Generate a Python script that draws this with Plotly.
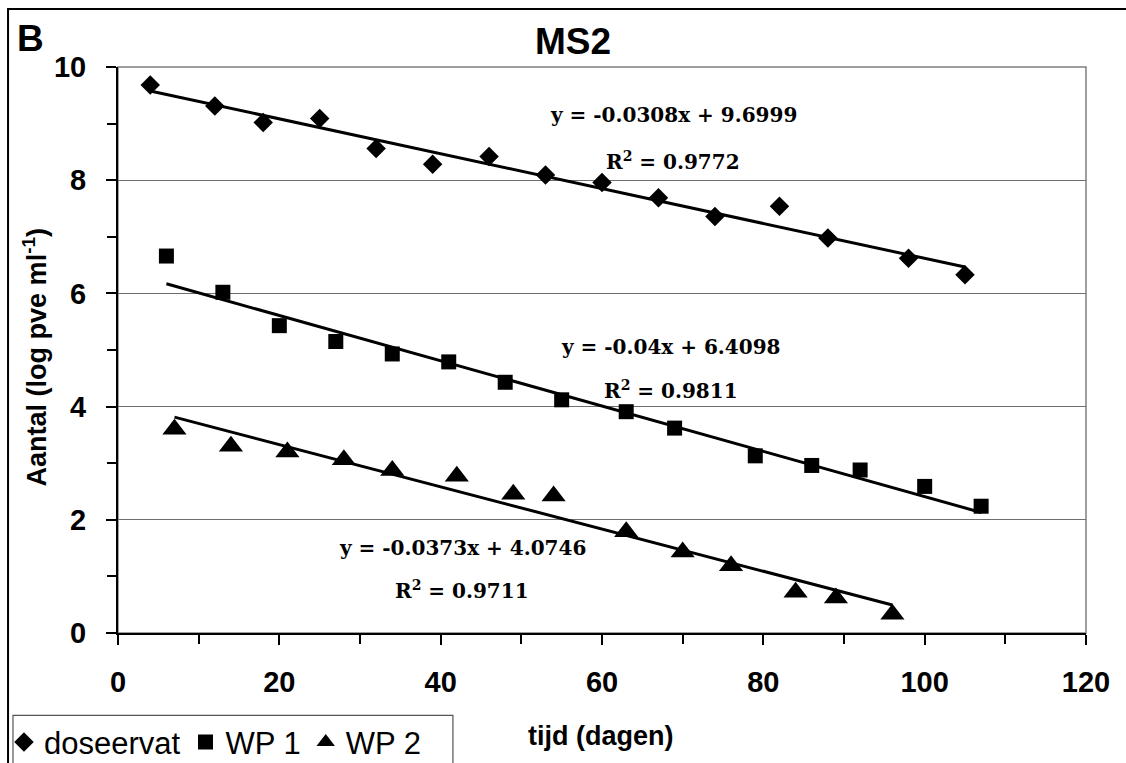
import plotly.graph_objects as go

# Measurements (days vs log pfu/ml)
dos_x = [4, 12, 18, 25, 32, 39, 46, 53, 60, 67, 74, 82, 88, 98, 105]
dos_y = [9.68, 9.31, 9.02, 9.09, 8.56, 8.28, 8.42, 8.09, 7.96, 7.69, 7.36, 7.54, 6.98, 6.62, 6.33]

wp1_x = [6, 13, 20, 27, 34, 41, 48, 55, 63, 69, 79, 86, 92, 100, 107]
wp1_y = [6.66, 6.02, 5.43, 5.15, 4.93, 4.79, 4.43, 4.12, 3.91, 3.62, 3.13, 2.96, 2.88, 2.59, 2.24]

wp2_x = [7, 14, 21, 28, 34, 42, 49, 54, 63, 70, 76, 84, 89, 96]
wp2_y = [3.6, 3.3, 3.2, 3.06, 2.87, 2.77, 2.45, 2.42, 1.79, 1.43, 1.19, 0.72, 0.62, 0.33]

# Linear trend coefficients and fit quality
slopes = [-0.0308, -0.04, -0.0373]
intercepts = [9.6999, 6.4098, 4.0746]
r_squared = ["0.9772", "0.9811", "0.9711"]
names = ["doseervat", "WP 1", "WP 2"]
symbols = ["diamond", "square", "triangle-up"]
marker_sizes = [15, 15, 21]

# Label anchor points (data units) for the regression equations
eq_pos = [(68.9, 9.16), (68.5, 5.06), (42.7, 1.50)]
r2_pos = [(68.8, 8.34), (68.6, 4.30), (42.7, 0.76)]

xs = [dos_x, wp1_x, wp2_x]
ys = [dos_y, wp1_y, wp2_y]

fig = go.Figure()

for i in range(3):
    fig.add_trace(go.Scatter(
        x=xs[i], y=ys[i], mode="markers", name=names[i],
        marker=dict(symbol=symbols[i], size=marker_sizes[i], color="black"),
    ))

for i in range(3):
    x0, x1 = min(xs[i]), max(xs[i])
    fig.add_trace(go.Scatter(
        x=[x0, x1],
        y=[slopes[i] * x0 + intercepts[i], slopes[i] * x1 + intercepts[i]],
        mode="lines", line=dict(color="black", width=3),
        showlegend=False, hoverinfo="skip",
    ))

eq_font = dict(family="DejaVu Serif", size=20, color="black")
annotations = []
for i in range(3):
    sign = "-" if slopes[i] < 0 else ""
    eq = f"<b>y = {sign}{abs(slopes[i]):g}x + {intercepts[i]:g}</b>"
    annotations.append(dict(x=eq_pos[i][0], y=eq_pos[i][1], xref="x", yref="y",
                            text=eq, showarrow=False, font=eq_font,
                            xanchor="center", yanchor="middle"))
    annotations.append(dict(x=r2_pos[i][0], y=r2_pos[i][1], xref="x", yref="y",
                            text=f"<b>R<sup>2</sup> = {r_squared[i]}</b>", showarrow=False,
                            font=eq_font, xanchor="center", yanchor="middle"))

sans = "Liberation Sans, Arial, sans-serif"
annotations += [
    dict(x=0.470, y=1.0447, xref="paper", yref="paper", text="<b>MS2</b>",
         showarrow=False, font=dict(family=sans, size=37, color="black"),
         xanchor="center", yanchor="middle"),
    dict(x=-0.0904, y=1.0504, xref="paper", yref="paper", text="<b>B</b>",
         showarrow=False, font=dict(family=sans, size=37, color="black"),
         xanchor="center", yanchor="middle"),
    # axis titles
    dict(x=0.498, y=-0.1826, xref="paper", yref="paper", text="<b>tijd (dagen)</b>",
         showarrow=False, font=dict(family=sans, size=27, color="black"),
         xanchor="center", yanchor="middle"),
    dict(x=-0.0857, y=0.487, xref="paper", yref="paper",
         text="<b>Aantal (log pve ml<sup>-1</sup>)</b>", textangle=-90,
         showarrow=False, font=dict(family=sans, size=27, color="black"),
         xanchor="center", yanchor="middle"),
]

shapes = [
    # plot-area frame (top and right edges)
    dict(type="rect", xref="paper", yref="paper", x0=0, x1=1, y0=0, y1=1,
         line=dict(color="#7f7f7f", width=1.5), layer="below"),
    # chart-area frame
    dict(type="rect", xref="paper", yref="paper", x0=-0.1136, x1=1.2, y0=-0.5, y1=1.1025,
         line=dict(color="black", width=2), layer="below"),
    # legend frame
    dict(type="rect", xref="paper", yref="paper", x0=-0.1085, x1=0.346, y0=-0.3, y1=-0.1455,
         line=dict(color="#555555", width=1.2), layer="below"),
]

tick_font = dict(family=sans, size=29, color="black", weight="bold")

fig.update_layout(
    width=1126, height=763,
    margin=dict(l=118, r=40, t=67, b=130.3, autoexpand=False),
    paper_bgcolor="white", plot_bgcolor="white",
    font=dict(family=sans, color="black"),
    annotations=annotations,
    shapes=shapes,
    showlegend=True,
    legend=dict(orientation="h", x=-0.1178, y=-0.1455, xanchor="left", yanchor="top",
                font=dict(family=sans, size=31, color="black"),
                bgcolor="rgba(0,0,0,0)", borderwidth=0, itemwidth=30),
    xaxis=dict(
        range=[0, 120], dtick=20, tick0=0,
        showline=True, linecolor="black", linewidth=2,
        ticks="outside", ticklen=10, tickwidth=2, tickcolor="black",
        minor=dict(dtick=10, ticks="outside", ticklen=9, tickwidth=1.5, tickcolor="black"),
        showgrid=False, zeroline=False,
        tickfont=tick_font,
        ticklabelstandoff=12,
    ),
    yaxis=dict(
        range=[0, 10], dtick=2, tick0=0,
        showline=True, linecolor="black", linewidth=2,
        ticks="outside", ticklen=10, tickwidth=2, tickcolor="black",
        minor=dict(dtick=1, ticks="outside", ticklen=9, tickwidth=1.5, tickcolor="black",
                   showgrid=False),
        showgrid=True, gridcolor="#6e6e6e", gridwidth=1, zeroline=False,
        tickfont=tick_font,
        ticklabelstandoff=14,
    ),
)

fig.write_html("out.html")
